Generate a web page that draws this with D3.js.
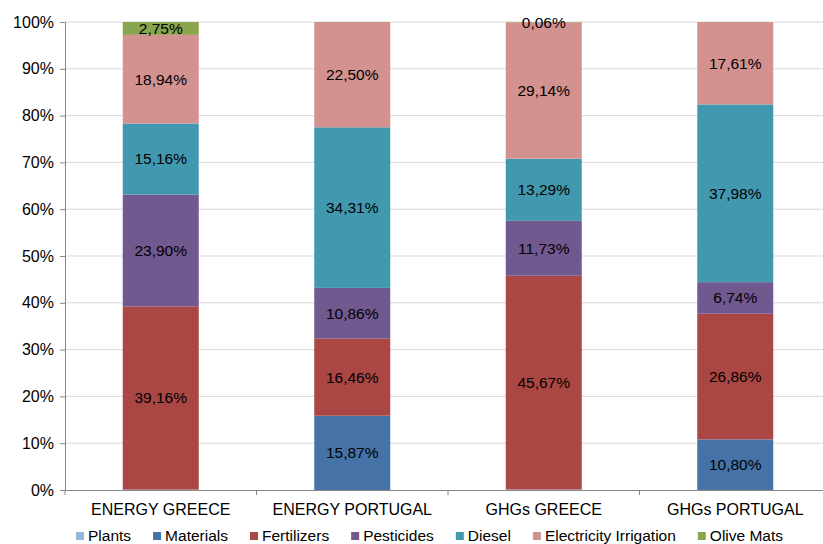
<!DOCTYPE html>
<html>
<head>
<meta charset="utf-8">
<style>
  body { margin: 0; background: #fff; }
  svg text { font-family: 'Liberation Sans', Arial, sans-serif; fill: #000; }
  .y .domain, .x .domain { stroke: #868686; }
  .y .tick line { stroke: #868686; }
  .tick text { font-size: 16px; }
</style>
</head>
<body>
<svg width="823" height="544"></svg>
<script src="https://d3js.org/d3.v7.min.js"></script>
<script>
  let categories = ["ENERGY GREECE", "ENERGY PORTUGAL", "GHGs GREECE", "GHGs PORTUGAL"];
  let seriesNames = ["Plants", "Materials", "Fertilizers", "Pesticides", "Diesel", "Electricity Irrigation", "Olive Mats"];
  let colors = ["#95b3d7", "#4572a7", "#aa4643", "#71588f", "#4198af", "#d39190", "#89a54e"];

  let plants = [0.09, 0, 0.11, 0.01];
  let materials = [0, 15.87, 0, 10.80];
  let fertilizers = [39.16, 16.46, 45.67, 26.86];
  let pesticides = [23.90, 10.86, 11.73, 6.74];
  let diesel = [15.16, 34.31, 13.29, 37.98];
  let electricity = [18.94, 22.50, 29.14, 17.61];
  let oliveMats = [2.75, 0, 0.06, 0];

  let yTicks = [0, 10, 20, 30, 40, 50, 60, 70, 80, 90, 100];

  let allSeries = [plants, materials, fertilizers, pesticides, diesel, electricity, oliveMats];
  let rows = categories.map((c, i) => {
    let r = { cat: c };
    seriesNames.forEach((s, j) => r[s] = allSeries[j][i]);
    return r;
  });

  let svg = d3.select("svg");
  let plotLeft = 65, plotRight = 831, plotTop = 22, plotBottom = 490;

  let x = d3.scaleBand().domain(categories).range([plotLeft, plotRight]).paddingInner(0).paddingOuter(0);
  let y = d3.scaleLinear().domain([0, 100]).range([plotBottom, plotTop]);

  // grid
  svg.append("g").selectAll("line").data(yTicks.slice(1)).join("line")
    .attr("x1", plotLeft).attr("x2", plotRight)
    .attr("y1", d => y(d)).attr("y2", d => y(d))
    .attr("stroke", "#d9d9d9");

  let stack = d3.stack().keys(seriesNames).offset(d3.stackOffsetExpand);
  let stacked = stack(rows);

  let barW = 76;
  let groups = svg.append("g").selectAll("g").data(stacked).join("g")
    .attr("fill", (d, i) => colors[i]);

  groups.selectAll("rect").data(d => d).join("rect")
    .attr("x", d => x(d.data.cat) + x.bandwidth() / 2 - barW / 2)
    .attr("width", barW)
    .attr("y", d => y(d[1] * 100))
    .attr("height", d => y(d[0] * 100) - y(d[1] * 100));

  // axes
  svg.append("g").attr("class", "y axis")
    .attr("transform", `translate(${plotLeft},0)`)
    .call(d3.axisLeft(y).tickValues(yTicks).tickSize(5).tickPadding(6)
      .tickFormat(d => d + "%"));

  svg.append("g").attr("class", "x axis")
    .attr("transform", `translate(0,${plotBottom})`)
    .call(d3.axisBottom(x).tickSize(0).tickPadding(14));

  // category boundary ticks
  svg.append("g").selectAll("line").data(categories).join("line")
    .attr("x1", d => x(d)).attr("x2", d => x(d))
    .attr("y1", plotBottom).attr("y2", plotBottom + 5)
    .attr("stroke", "#868686");

  // data labels
  let fmt = v => v.toFixed(2).replace(".", ",") + "%";
  stacked.forEach((s, i) => {
    if (s.key === "Plants") return;
    svg.append("g").selectAll("text").data(s.filter(d => d.data[s.key] > 0)).join("text")
      .attr("x", d => x(d.data.cat) + x.bandwidth() / 2)
      .attr("y", d => (y(d[0] * 100) + y(d[1] * 100)) / 2 + 5.5)
      .attr("text-anchor", "middle")
      .attr("font-size", 15.5)
      .text(d => fmt(d.data[s.key]));
  });

  // legend
  let legend = svg.append("g").attr("transform", "translate(0,541)");
  let lx = 76;
  seriesNames.forEach((s, i) => {
    legend.append("rect").attr("x", lx).attr("y", -9).attr("width", 8).attr("height", 8).attr("fill", colors[i]);
    let t = legend.append("text").attr("x", lx + 12).attr("y", 0).attr("font-size", 15.5).text(s);
    lx += 12 + t.node().getComputedTextLength() + 22;
  });
</script>
</body>
</html>
